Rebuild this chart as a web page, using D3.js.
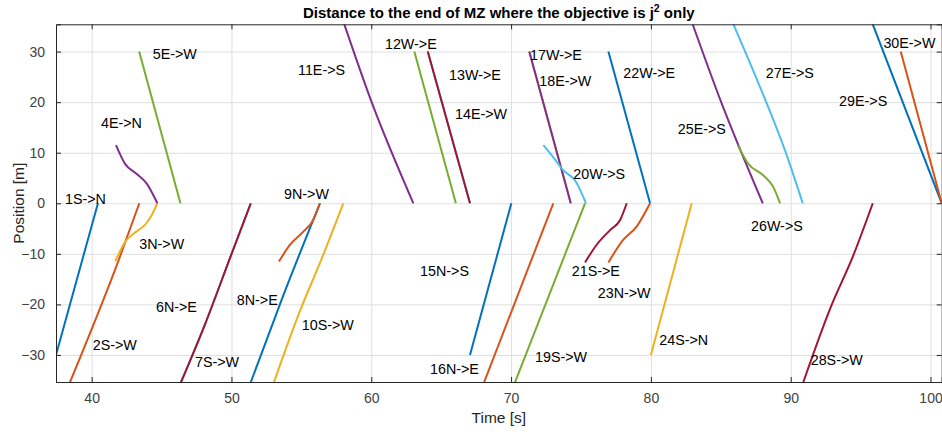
<!DOCTYPE html>
<html>
<head>
<meta charset="utf-8">
<script src="https://cdn.jsdelivr.net/npm/d3@7"></script>
<style>
  body { margin: 0; background: #fff; }
  text { font-family: "Liberation Sans", Arial, Helvetica, sans-serif; }
</style>
</head>
<body>
<div id="chart"></div>
<script>

// vehicle names, in the order they are drawn
const vehicles = ["1S->N", "2S->W", "3N->W", "4E->N", "5E->W", "6N->E", "7S->W", "8N->E", "9N->W", "10S->W",
    "11E->S", "12W->E", "13W->E", "14E->W", "15N->S", "16N->E", "17W->E", "18E->W", "19S->W", "20W->S",
    "21S->E", "22W->E", "23N->W", "24S->N", "25E->S", "26W->S", "27E->S", "28S->W", "29E->S", "30E->W"];

// trajectories: [time s, position m]
const trajectories = [
    [[37.45, -30], [40.45, 0]],
    [[38.45, -35.4], [41.9, -11.5], [43.41, 0]],
    [[41.69, -11.5], [42.4, -7.6], [43.2, -5.6], [43.9, -4.0], [44.3, -2.3], [44.7, 0]],
    [[41.74, 11.5], [42.39, 7.8], [43.22, 5.8], [43.94, 3.9], [44.7, 0]],
    [[43.4, 30], [46.35, 0]],
    [[46.39, -35.4], [48.1, -24], [49.9, -10.8], [51.38, 0]],
    [[46.39, -35.4], [48.1, -24], [49.9, -10.8], [51.38, 0]],
    [[51.38, -35.4], [53.6, -19], [56.33, 0]],
    [[53.4, -11.5], [54.19, -8.2], [55.14, -5.6], [55.85, -3.3], [56.33, 0]],
    [[53.04, -35.4], [54.9, -21.3], [56.33, -11.8], [58.0, 0]],
    [[58.07, 35.4], [60.0, 20.2], [63.01, 0]],
    [[63.08, 30], [66.05, 0]],
    [[64.04, 30], [67.06, 0]],
    [[64.04, 30], [67.06, 0]],
    [[67.06, -30], [70.02, 0]],
    [[68.07, -35.4], [73.02, 0]],
    [[71.3, 30], [74.27, 0]],
    [[71.3, 30], [74.27, 0]],
    [[70.28, -35.4], [75.29, 0]],
    [[72.31, 11.5], [73.02, 9.1], [73.74, 6.5], [74.58, 4.5], [75.36, 0]],
    [[75.29, -11.7], [76.12, -8.2], [77.08, -5.3], [77.8, -3.3], [78.27, 0]],
    [[76.96, 30], [79.94, 0]],
    [[76.96, -11.7], [78.03, -7.2], [78.98, -4.6], [79.94, 0]],
    [[80.0, -30], [82.92, 0]],
    [[82.99, 35.4], [85.0, 20.2], [88.0, 0]],
    [[86.21, 11.5], [86.97, 7.8], [88.05, 5.5], [88.76, 3.2], [89.24, 0]],
    [[85.9, 35.4], [87.55, 24.7], [89.6, 10.4], [90.86, 0]],
    [[90.9, -35.4], [92.9, -20.3], [94.45, -10.5], [95.87, 0]],
    [[95.87, 35.4], [100.8, 0]],
    [[97.87, 30], [100.8, 0]]
];

// where each name is written: [time s, position m]
const labelAt = [
    [38.09, 0.8], [40.08, -28.1], [43.41, -8.1], [40.67, 15.9], [44.37, 29.6],
    [44.6, -20.5], [47.39, -31.4], [50.38, -19.1], [53.76, 1.8], [55.03, -24.1],
    [54.76, 26.4], [60.98, 31.6], [65.56, 25.4], [65.99, 17.7], [63.49, -13.4],
    [64.2, -32.7], [71.36, 29.4], [72.02, 24.2], [71.71, -30.4], [74.45, 5.7],
    [74.34, -13.3], [78.03, 25.7], [76.2, -17.7], [80.6, -27.1], [81.92, 14.7],
    [87.16, -4.4], [88.22, 25.7], [91.43, -30.9], [93.46, 20.2], [96.63, 31.8]
];

const xTicks = [40, 50, 60, 70, 80, 90, 100];
const yTicks = [-30, -20, -10, 0, 10, 20, 30];

let width = 942, height = 436;
let plotLeft = 56, plotRight = 941.7, plotTop = 24.3, plotBottom = 382;

// matlab default line colours
let colorOrder = ["#0072BD", "#D95319", "#EDB120", "#7E2F8E", "#77AC30", "#4DBEEE", "#A2142F"];

let svg = d3.select("#chart")
    .append("svg")
    .attr("width", width)
    .attr("height", height);

let x = d3.scaleLinear().domain([37.45, 100.8]).range([plotLeft, plotRight]);
let y = d3.scaleLinear().domain([-35.35, 35.4]).range([plotBottom, plotTop]);

// grid
svg.append("g")
    .attr("class", "grid")
    .attr("transform", "translate(0," + plotBottom + ")")
    .call(d3.axisBottom(x).tickValues(xTicks).tickSize(-(plotBottom - plotTop)).tickFormat(""))
    .call(g => g.select(".domain").remove())
    .selectAll("line").attr("stroke", "#dfdfdf");

svg.append("g")
    .attr("class", "grid")
    .attr("transform", "translate(" + plotLeft + ",0)")
    .call(d3.axisLeft(y).tickValues(yTicks).tickSize(-(plotRight - plotLeft)).tickFormat(""))
    .call(g => g.select(".domain").remove())
    .selectAll("line").attr("stroke", "#dfdfdf");

svg.append("clipPath")
    .attr("id", "plotArea")
    .append("rect")
    .attr("x", plotLeft).attr("y", plotTop)
    .attr("width", plotRight - plotLeft).attr("height", plotBottom - plotTop);

let line = d3.line()
    .x(d => x(d[0]))
    .y(d => y(d[1]))
    .curve(d3.curveMonotoneX);

svg.append("g")
    .attr("clip-path", "url(#plotArea)")
    .selectAll("path")
    .data(trajectories)
    .enter().append("path")
    .attr("d", line)
    .attr("fill", "none")
    .attr("stroke", (d, i) => colorOrder[i % 7])
    .attr("stroke-width", 2);

svg.append("g")
    .selectAll("text")
    .data(vehicles)
    .enter().append("text")
    .attr("x", (d, i) => x(labelAt[i][0]))
    .attr("y", (d, i) => y(labelAt[i][1]))
    .attr("dy", "0.35em")
    .attr("font-size", 14.3)
    .attr("fill", "#000")
    .text(d => d);

// axes, matlab style ticks pointing inwards on all four sides
let axisColor = "#262626";

let xAxis = svg.append("g")
    .attr("transform", "translate(0," + plotBottom + ")")
    .call(d3.axisBottom(x).tickValues(xTicks).tickSize(-5).tickPadding(11));
let xTop = svg.append("g")
    .attr("transform", "translate(0," + plotTop + ")")
    .call(d3.axisTop(x).tickValues(xTicks).tickSize(-5).tickFormat(""));
let yAxis = svg.append("g")
    .attr("transform", "translate(" + plotLeft + ",0)")
    .call(d3.axisLeft(y).tickValues(yTicks).tickSize(-5).tickPadding(11));
let yRight = svg.append("g")
    .attr("transform", "translate(" + plotRight + ",0)")
    .call(d3.axisRight(y).tickValues(yTicks).tickSize(-5).tickFormat(""));

[xAxis, xTop, yAxis, yRight].forEach(g => {
    g.select(".domain").attr("stroke", axisColor).attr("stroke-width", 1);
    g.selectAll(".tick line").attr("stroke", axisColor);
    g.selectAll(".tick text")
        .attr("fill", "#404040")
        .attr("font-size", 14)
        .attr("font-family", "'Liberation Sans', Arial, sans-serif");
});

svg.append("text")
    .attr("x", (plotLeft + plotRight) / 2)
    .attr("y", 423)
    .attr("text-anchor", "middle")
    .attr("font-size", 15.5)
    .attr("fill", "#262626")
    .text("Time [s]");

svg.append("text")
    .attr("transform", "translate(24," + ((plotTop + plotBottom) / 2) + ") rotate(-90)")
    .attr("text-anchor", "middle")
    .attr("font-size", 15.5)
    .attr("fill", "#262626")
    .text("Position [m]");

let title = svg.append("text")
    .attr("x", (plotLeft + plotRight) / 2)
    .attr("y", 18)
    .attr("text-anchor", "middle")
    .attr("font-size", 15)
    .attr("font-weight", "bold")
    .attr("fill", "#000");
title.append("tspan").text("Distance to the end of MZ where the objective is j");
title.append("tspan").attr("dy", -6).attr("font-size", 10.5).text("2");
title.append("tspan").attr("dy", 6).text(" only");

</script>
</body>
</html>
